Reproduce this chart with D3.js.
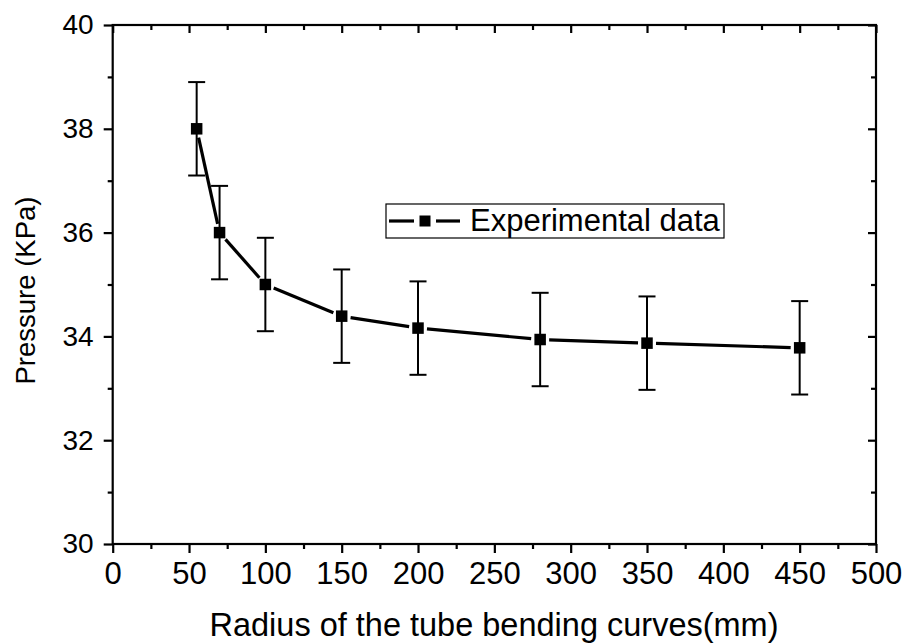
<!DOCTYPE html>
<html><head><meta charset="utf-8">
<script src="https://cdn.jsdelivr.net/npm/d3@7/dist/d3.min.js"></script>
<style>body{margin:0;background:#fff}svg{display:block}text{font-family:Arial,"Liberation Sans",sans-serif;fill:#000}</style>
</head><body><svg id="c" width="907" height="643"></svg>
<script>
const radius = [55, 70, 100, 150, 200, 280, 350, 450];
const pressure = [38.0, 36.0, 35.0, 34.39, 34.16, 33.94, 33.87, 33.78];
const errorVals = [0.9, 0.9, 0.9, 0.9, 0.9, 0.9, 0.9, 0.9];
const xTicks = [0, 50, 100, 150, 200, 250, 300, 350, 400, 450, 500];
const yTicks = [30, 32, 34, 36, 38, 40];
const xMinor = [25, 75, 125, 175, 225, 275, 325, 375, 425, 475];
const yMinor = [31, 33, 35, 37, 39];
const seriesName = "Experimental data";
const xTitle = "Radius of the tube bending curves(mm)";
const yTitle = "Pressure (KPa)";

const L = 112.7, R = 876, T = 25, B = 544;
const svg = d3.select("#c");
const x = d3.scaleLinear().domain([0, 500]).range([L, R]);
const y = d3.scaleLinear().domain([30, 40]).range([B, T]);

const axW = 2.2;
const FF = "Arial, 'Liberation Sans', sans-serif";
// bottom axis
const gB = svg.append("g").attr("transform", `translate(0,${B})`)
  .call(d3.axisBottom(x).tickValues(xTicks).tickSize(9).tickPadding(9).tickFormat(d3.format("d")));
const gBm = svg.append("g").attr("transform", `translate(0,${B})`)
  .call(d3.axisBottom(x).tickValues(xMinor).tickSize(5).tickFormat(""));
// left axis
const gL = svg.append("g").attr("transform", `translate(${L},0)`)
  .call(d3.axisLeft(y).tickValues(yTicks).tickSize(9).tickPadding(10).tickFormat(d3.format("d")));
const gLm = svg.append("g").attr("transform", `translate(${L},0)`)
  .call(d3.axisLeft(y).tickValues(yMinor).tickSize(5).tickFormat(""));
// top axis (inward ticks)
const gT = svg.append("g").attr("transform", `translate(0,${T})`)
  .call(d3.axisBottom(x).tickValues(xTicks).tickSize(8).tickFormat(""));
const gTm = svg.append("g").attr("transform", `translate(0,${T})`)
  .call(d3.axisBottom(x).tickValues(xMinor).tickSize(5).tickFormat(""));
// right axis (inward ticks)
const gR = svg.append("g").attr("transform", `translate(${R},0)`)
  .call(d3.axisLeft(y).tickValues(yTicks).tickSize(8).tickFormat(""));
const gRm = svg.append("g").attr("transform", `translate(${R},0)`)
  .call(d3.axisLeft(y).tickValues(yMinor).tickSize(5).tickFormat(""));

[gB, gBm, gL, gLm, gT, gTm, gR, gRm].forEach(g => {
  g.selectAll(".domain").remove();
  g.selectAll("line").attr("stroke", "#000").attr("stroke-width", axW);
});
gB.selectAll("text").attr("font-size", 31).attr("font-family", FF).attr("fill", "#000");
gL.selectAll("text").attr("font-size", 28).attr("font-family", FF).attr("fill", "#000");
// frame
svg.append("rect").attr("x", L).attr("y", T).attr("width", R - L).attr("height", B - T)
  .attr("fill", "none").attr("stroke", "#000").attr("stroke-width", axW);

const pts = radius.map((r, i) => ({ x: x(r), y: y(pressure[i]), e: errorVals[i], v: pressure[i], r }));

// error bars
const capW = 8.5;
const eb = svg.append("g").attr("stroke", "#000").attr("stroke-width", 2);
pts.forEach(p => {
  const y1 = y(p.v + p.e), y2 = y(p.v - p.e);
  eb.append("line").attr("x1", p.x).attr("x2", p.x).attr("y1", y1).attr("y2", y2);
  eb.append("line").attr("x1", p.x - capW).attr("x2", p.x + capW).attr("y1", y1).attr("y2", y1);
  eb.append("line").attr("x1", p.x - capW).attr("x2", p.x + capW).attr("y1", y2).attr("y2", y2);
});

// connecting line with gaps near markers
const gap = 9;
const lg = svg.append("g").attr("stroke", "#000").attr("stroke-width", 3.2).attr("stroke-linecap", "butt");
for (let i = 0; i < pts.length - 1; i++) {
  const a = pts[i], b = pts[i + 1];
  const dx = b.x - a.x, dy = b.y - a.y, len = Math.hypot(dx, dy);
  const ux = dx / len, uy = dy / len;
  lg.append("line").attr("x1", a.x + ux * gap).attr("y1", a.y + uy * gap)
    .attr("x2", b.x - ux * gap).attr("y2", b.y - uy * gap);
}
// markers
const ms = 11.5;
svg.append("g").selectAll("rect").data(pts).join("rect")
  .attr("x", d => d.x - ms / 2).attr("y", d => d.y - ms / 2)
  .attr("width", ms).attr("height", ms).attr("fill", "#000");

// legend
const lgX = 386, lgY = 204, lgW = 338, lgH = 34;
const leg = svg.append("g");
leg.append("rect").attr("x", lgX).attr("y", lgY).attr("width", lgW).attr("height", lgH)
  .attr("fill", "#fff").attr("stroke", "#000").attr("stroke-width", 1.2);
const cy = lgY + lgH / 2;
leg.append("line").attr("x1", 389).attr("x2", 414).attr("y1", cy).attr("y2", cy).attr("stroke", "#000").attr("stroke-width", 3.2);
leg.append("line").attr("x1", 436).attr("x2", 460).attr("y1", cy).attr("y2", cy).attr("stroke", "#000").attr("stroke-width", 3.2);
leg.append("rect").attr("x", 425 - 5.5).attr("y", cy - 5.5).attr("width", 11).attr("height", 11).attr("fill", "#000");
leg.append("text").attr("x", 470).attr("y", cy + 10).attr("font-size", 31).text(seriesName);

// titles
svg.append("text").attr("x", 494).attr("y", 636).attr("text-anchor", "middle")
  .attr("font-size", 32.5).text(xTitle);
svg.append("text").attr("transform", `translate(35,${(T + B) / 2 + 6}) rotate(-90)`)
  .attr("text-anchor", "middle").attr("font-size", 27.5).text(yTitle);
</script></body></html>
